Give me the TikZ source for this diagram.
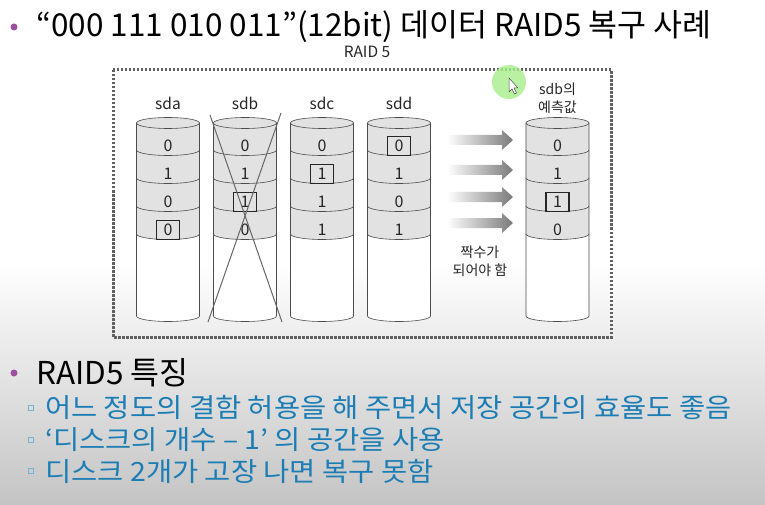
\documentclass[tikz,border=0pt]{standalone}
\usepackage{fontspec}
\setmainfont{Noto Sans CJK KR}
\newfontfamily\widekr[FakeStretch=1.075]{Noto Sans CJK KR}
\usetikzlibrary{positioning,arrows.meta,shapes.geometric,calc,backgrounds,fit}
\definecolor{slidePurple}{HTML}{9B4F9E}
\definecolor{slideBlue}{HTML}{1C7DB5}
\definecolor{diskGray}{HTML}{E2E2E2}
\definecolor{lineGray}{HTML}{606060}
\definecolor{arrowGray}{HTML}{7A7A7A}
\definecolor{bgGray}{HTML}{C4C4C4}
\definecolor{pointerGreen}{HTML}{A8EE8C}
\tikzset{
  x=1pt, y=1pt,
  diskline/.style={draw=black!70, line width=0.6pt},
  disklbl/.style={font=\fontsize{15.5}{16}\selectfont, text=black!85, inner sep=0pt},
  bit/.style={font=\fontsize{16}{16}\selectfont, text=black!85, inner sep=0pt},
  bitbox/.style={draw=black!85, line width=1.3pt, minimum width=23pt, minimum height=19pt, inner sep=0pt},
  note/.style={font=\fontsize{14}{18}\selectfont, text=black!85, align=center, inner sep=0pt},
  crossline/.style={draw=black!60, line width=1pt},
  raidbox/.style={draw=lineGray, line width=3pt, dash pattern=on 2.5pt off 1.5pt},
  headline/.style={font=\fontsize{31.5}{34}\selectfont, anchor=west, inner sep=0pt},
  subline/.style={font=\widekr\fontsize{26.5}{28}\selectfont, text=slideBlue, anchor=west, inner sep=0pt},
  raiddisk/.pic={
    \fill[white] (-31.5,0) -- (-31.5,-193) arc[start angle=180, end angle=360, x radius=31.5, y radius=5.5] -- (31.5,0) -- cycle;
    \fill[diskGray] (-31.5,0) -- (-31.5,-111) arc[start angle=180, end angle=360, x radius=31.5, y radius=5.5] -- (31.5,0) -- cycle;
    \foreach \yb in {-27,-55,-83,-111}
      \draw[diskline] (-31.5,\yb) arc[start angle=180, end angle=360, x radius=31.5, y radius=5.5];
    \draw[diskline, fill=diskGray] (0,0) ellipse[x radius=31.5, y radius=5.5];
    \draw[diskline] (-31.5,0) -- (-31.5,-193) arc[start angle=180, end angle=360, x radius=31.5, y radius=5.5] -- (31.5,0);
  },
}

\begin{document}
\begin{tikzpicture}
  % slide background
  \fill[white] (0,0) rectangle (765,-505);
  \shade[top color=white, bottom color=bgGray] (0,-262) rectangle (765,-505);
  \useasboundingbox (0,0) rectangle (765,-505);

  % title
  \fill[slidePurple] (14,-27) circle (3.5);
  \node[headline] (ttl) at (36,-27) {“000 111 010 011”(12bit) 데이터 RAID5 복구 사례};
  \node[font=\fontsize{15.5}{16}\selectfont, text=black!85, inner sep=0pt] (raidlbl) at (367,-52) {RAID 5};

  % RAID 5 frame
  \draw[raidbox] (113,-70) rectangle (611,-337);

  % disks with bits
  \foreach \cx/\nm/\a/\b/\c/\d/\k in {168/sda/0/1/0/0/4, 245/sdb/0/1/1/0/3, 322/sdc/0/1/1/1/2, 399/sdd/0/1/0/1/1, 557.5/prd/0/1/1/0/3} {
    \pic at (\cx,-123) {raiddisk};
    \foreach \v [count=\i] in {\a,\b,\c,\d}
      \node[bit] (\nm-\i) at (\cx,-146-28*\i+28) {\v};
    \node[bitbox] at (\nm-\k) {};
  }
  \foreach \cx/\nm in {168/sda, 245/sdb, 322/sdc, 399/sdd}
    \node[disklbl] (\nm-lbl) at (\cx,-103) {\nm};
  \node[note] (prd-lbl) at (557.5,-98) {sdb의\\예측값};

  % failed disk
  \coordinate (xa) at (210,-115);
  \coordinate (xb) at (282,-322);
  \coordinate (xc) at (281,-113);
  \coordinate (xd) at (208,-322);
  \draw[crossline] (xa) -- (xb);
  \draw[crossline] (xc) -- (xd);

  % parity arrows
  \foreach \ya in {140,170,197,223}
    \shade[left color=white, right color=arrowGray]
      (447,-\ya+5) -- (502,-\ya+5) -- (502,-\ya+10) -- (513,-\ya) -- (502,-\ya-10) -- (502,-\ya-5) -- (447,-\ya-5) -- cycle;
  \node[note] (even) at (480,-261) {짝수가\\되어야 함};

  % pointer highlight
  \fill[pointerGreen, fill opacity=0.8] (509,-82) circle (17);
  \draw[black!70, fill=white, line width=0.5pt]
    (509,-78) -- (509,-92) -- (512,-89) -- (514.5,-94) -- (516.5,-93) -- (514,-88) -- (518,-88) -- cycle;

  % features
  \fill[slidePurple] (14,-373) circle (3.5);
  \node[headline] (feat) at (36,-373) {RAID5 특징};
  \foreach \yl/\txt in {408/어느 정도의 결함 허용을 해 주면서 저장 공간의 효율도 좋음, 440/‘디스크의 개수 – 1’ 의 공간을 사용, 471/디스크 2개가 고장 나면 복구 못함} {
    \draw[slideBlue!60, line width=0.7pt] (28.5,-\yl-2.5) rectangle (33.5,-\yl+2.5);
    \node[subline] at (45,-\yl) {\txt};
  }
\end{tikzpicture}
\end{document}
